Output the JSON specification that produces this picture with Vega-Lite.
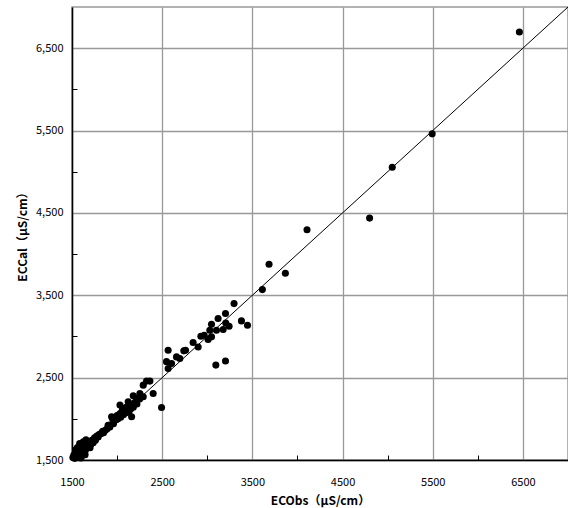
{
  "$schema": "https://vega.github.io/schema/vega-lite/v6.json",
  "width": 496,
  "height": 453,
  "autosize": {"type": "none"},
  "padding": {"left": 72, "top": 7, "right": 0, "bottom": 48},
  "background": "white",
  "config": {
    "view": {"stroke": "#999999", "strokeWidth": 1.5},
    "font": "Noto Sans CJK JP"
  },
  "datasets": {
    "pts": [
      {"obs": 1510, "cal": 1530}, {"obs": 1520, "cal": 1560}, {"obs": 1530, "cal": 1520}, {"obs": 1540, "cal": 1580},
      {"obs": 1550, "cal": 1540}, {"obs": 1560, "cal": 1600}, {"obs": 1570, "cal": 1560}, {"obs": 1580, "cal": 1620},
      {"obs": 1590, "cal": 1540}, {"obs": 1600, "cal": 1650}, {"obs": 1605, "cal": 1600}, {"obs": 1615, "cal": 1680},
      {"obs": 1620, "cal": 1560}, {"obs": 1630, "cal": 1640}, {"obs": 1640, "cal": 1700}, {"obs": 1650, "cal": 1620},
      {"obs": 1660, "cal": 1690}, {"obs": 1670, "cal": 1650}, {"obs": 1680, "cal": 1710}, {"obs": 1690, "cal": 1660},
      {"obs": 1700, "cal": 1720}, {"obs": 1710, "cal": 1690}, {"obs": 1720, "cal": 1740}, {"obs": 1735, "cal": 1710},
      {"obs": 1560, "cal": 1650}, {"obs": 1585, "cal": 1700}, {"obs": 1625, "cal": 1720}, {"obs": 1655, "cal": 1745},
      {"obs": 1600, "cal": 1525}, {"obs": 1645, "cal": 1565}, {"obs": 1700, "cal": 1650}, {"obs": 1540, "cal": 1625},
      {"obs": 1750, "cal": 1770}, {"obs": 1760, "cal": 1740}, {"obs": 1775, "cal": 1790}, {"obs": 1790, "cal": 1780},
      {"obs": 1800, "cal": 1810}, {"obs": 1820, "cal": 1820}, {"obs": 1840, "cal": 1850}, {"obs": 1850, "cal": 1830},
      {"obs": 1870, "cal": 1860}, {"obs": 1890, "cal": 1880}, {"obs": 1900, "cal": 1920}, {"obs": 1920, "cal": 1900},
      {"obs": 1921, "cal": 1924}, {"obs": 1939, "cal": 2025}, {"obs": 1950, "cal": 2000}, {"obs": 1960, "cal": 1940},
      {"obs": 1975, "cal": 2020}, {"obs": 1990, "cal": 1990}, {"obs": 2000, "cal": 2040}, {"obs": 2010, "cal": 2000},
      {"obs": 2030, "cal": 2060}, {"obs": 2032, "cal": 2167}, {"obs": 2040, "cal": 2020}, {"obs": 2050, "cal": 2080},
      {"obs": 2060, "cal": 2120}, {"obs": 2070, "cal": 2050}, {"obs": 2080, "cal": 2100}, {"obs": 2090, "cal": 2070},
      {"obs": 2100, "cal": 2140}, {"obs": 2110, "cal": 2090}, {"obs": 2120, "cal": 2110}, {"obs": 2123, "cal": 2207},
      {"obs": 2130, "cal": 2080}, {"obs": 2140, "cal": 2160}, {"obs": 2150, "cal": 2120}, {"obs": 2161, "cal": 2025},
      {"obs": 2170, "cal": 2180}, {"obs": 2179, "cal": 2279}, {"obs": 2180, "cal": 2140}, {"obs": 2200, "cal": 2200},
      {"obs": 2216, "cal": 2248}, {"obs": 2220, "cal": 2180}, {"obs": 2253, "cal": 2308}, {"obs": 2250, "cal": 2240},
      {"obs": 2290, "cal": 2267}, {"obs": 2290, "cal": 2409}, {"obs": 2327, "cal": 2458}, {"obs": 2364, "cal": 2458},
      {"obs": 2400, "cal": 2308}, {"obs": 2493, "cal": 2138},
      {"obs": 2548, "cal": 2694}, {"obs": 2566, "cal": 2833}, {"obs": 2566, "cal": 2612}, {"obs": 2604, "cal": 2672},
      {"obs": 2659, "cal": 2752}, {"obs": 2696, "cal": 2732}, {"obs": 2740, "cal": 2825}, {"obs": 2759, "cal": 2833},
      {"obs": 2843, "cal": 2927}, {"obs": 2899, "cal": 2873}, {"obs": 2929, "cal": 3003}, {"obs": 2966, "cal": 3015},
      {"obs": 3009, "cal": 2963}, {"obs": 3047, "cal": 2995}, {"obs": 3047, "cal": 3148}, {"obs": 3028, "cal": 3076},
      {"obs": 3102, "cal": 3076}, {"obs": 3120, "cal": 3218}, {"obs": 3176, "cal": 3084}, {"obs": 3202, "cal": 3278},
      {"obs": 3205, "cal": 3164}, {"obs": 3242, "cal": 3124}, {"obs": 3297, "cal": 3399}, {"obs": 3379, "cal": 3189},
      {"obs": 3446, "cal": 3136}, {"obs": 3095, "cal": 2652}, {"obs": 3202, "cal": 2703},
      {"obs": 3611, "cal": 3569}, {"obs": 3685, "cal": 3876}, {"obs": 3866, "cal": 3767},
      {"obs": 4106, "cal": 4296}, {"obs": 4800, "cal": 4437}, {"obs": 5051, "cal": 5055},
      {"obs": 5494, "cal": 5460}, {"obs": 6461, "cal": 6696}
    ],
    "diag": [{"obs": 1500, "cal": 1500}, {"obs": 7000, "cal": 7000}]
  },
  "layer": [
    {
      "data": {"name": "pts"},
      "mark": {"type": "point", "filled": true, "color": "black", "opacity": 1, "size": 50},
      "encoding": {
        "x": {
          "field": "obs", "type": "quantitative",
          "scale": {"domain": [1500, 7000], "nice": false, "zero": false},
          "axis": {
            "values": [1500, 2500, 3500, 4500, 5500, 6500],
            "format": "d",
            "grid": true, "gridColor": "#999999", "gridWidth": 1.3, "gridOpacity": 1,
            "ticks": false, "labelPadding": 16,
            "domainColor": "black", "domainWidth": 1.5,
            "labelFont": "Noto Sans CJK JP", "labelFontSize": 11, "labelColor": "black", "labelFlush": false,
            "title": "ECObs（μS/cm）", "titleFont": "Noto Sans CJK JP", "titleFontSize": 12, "titleFontWeight": "bold",
            "titleColor": "black", "titlePadding": 8
          }
        },
        "y": {
          "field": "cal", "type": "quantitative",
          "scale": {"domain": [1500, 7000], "nice": false, "zero": false},
          "axis": {
            "values": [1500, 2500, 3500, 4500, 5500, 6500],
            "format": ",d",
            "grid": true, "gridColor": "#999999", "gridWidth": 1.3, "gridOpacity": 1,
            "ticks": false, "labelPadding": 9,
            "domainColor": "black", "domainWidth": 1.5,
            "labelFont": "Noto Sans CJK JP", "labelFontSize": 11, "labelColor": "black", "labelFlush": false,
            "title": "ECCal（μS/cm）", "titleFont": "Noto Sans CJK JP", "titleFontSize": 12, "titleFontWeight": "bold",
            "titleColor": "black", "titlePadding": 6
          }
        }
      }
    },
    {
      "data": {"name": "diag"},
      "mark": {"type": "line", "color": "black", "strokeWidth": 1},
      "encoding": {
        "x": {
          "field": "obs", "type": "quantitative",
          "axis": {
            "orient": "bottom", "values": [2000, 3000, 4000, 5000, 6000],
            "labels": false, "grid": false, "domain": false, "title": null,
            "ticks": true, "tickSize": -5, "tickColor": "black", "tickWidth": 1
          }
        },
        "y": {
          "field": "cal", "type": "quantitative",
          "axis": {
            "orient": "left", "values": [2000, 3000, 4000, 5000, 6000],
            "labels": false, "grid": false, "domain": false, "title": null,
            "ticks": true, "tickSize": -5, "tickColor": "black", "tickWidth": 1
          }
        }
      }
    }
  ],
  "resolve": {"axis": {"x": "independent", "y": "independent"}}
}
